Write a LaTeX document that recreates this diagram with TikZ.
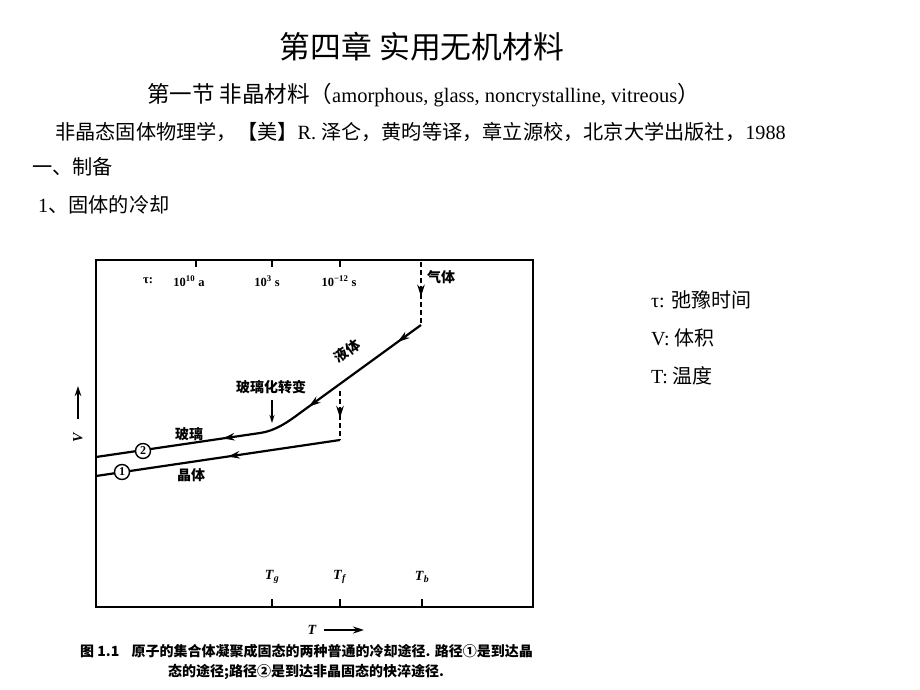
\documentclass[tikz,border=0pt]{standalone}
\usepackage{fontspec}
\setmainfont{Liberation Serif}
\newfontfamily\cjk{Noto Sans CJK SC}
\usetikzlibrary{arrows.meta,decorations.markings}
\tikzset{
  txt/.style={inner sep=0pt, anchor=west},
  hdr/.style={txt, font=\fontsize{20.2}{21}\selectfont},
  side/.style={txt, font=\fontsize{20}{21}\selectfont},
  flbl/.style={inner sep=0pt, font=\cjk\bfseries\fontsize{14}{14}\selectfont},
  tlbl/.style={inner sep=0pt, font=\bfseries\fontsize{12.5}{12.5}\selectfont},
  tklbl/.style={inner sep=0pt, font=\bfseries\fontsize{14}{14}\selectfont},
  capt/.style={inner sep=0pt, font=\cjk\bfseries\fontsize{14}{14}\selectfont},
  frame/.style={line width=1.8pt},
  curve/.style={line width=2.2pt},
  dline/.style={line width=2.2pt, dash pattern=on 5pt off 3pt},
  circ/.style={circle, draw, fill=white, line width=1.4pt, minimum size=15pt, inner sep=0pt, font=\bfseries\fontsize{12}{12}\selectfont},
  arr/.style={postaction={decorate, decoration={markings,
      mark=at position #1 with {\arrow{Stealth[length=12pt,width=7.5pt]}}}}},
}
\begin{document}
\begin{tikzpicture}[x=1pt,y=-1pt]
\useasboundingbox (0,0) rectangle (920,690);
% ---------- header text ----------
\node[inner sep=0pt, font=\cjk\fontsize{30.8}{31}\selectfont] (title) at (422,47) {第四章 实用无机材料};
\node[txt] (sub) at (147,95) {{\cjk\fontsize{22.5}{23}\selectfont 第一节 非晶材料（}{\fontsize{20.5}{21}\selectfont amorphous,\ glass, noncrystalline,\ vitreous}{\cjk\fontsize{22.5}{23}\selectfont ）}};
\node[hdr] (ref) at (55,132) {{\cjk 非晶态固体物理学，【美】}R. {\cjk 泽仑，黄昀等译，章立源校，北京大学出版社，}1988};
\node[hdr] (s1) at (32,167) {\cjk 一、制备};
\node[hdr] (s2) at (38,205) {1{\cjk 、固体的冷却}};
% ---------- side legend ----------
\node[side] (l1) at (651,300) {τ: {\cjk 弛豫时间}};
\node[side] (l2) at (651,338) {V: {\cjk 体积}};
\node[side] (l3) at (651,376) {T: {\cjk 温度}};
% ---------- frame ----------
\coordinate (fbl) at (96,607);
\coordinate (ftr) at (533,260);
\draw[frame] (fbl) rectangle (ftr);
% top ticks
\foreach \x in {196,272,340} \draw[line width=1.6pt] (\x,260) -- (\x,267);
% bottom ticks
\foreach \x in {272,340,422} \draw[line width=1.8pt] (\x,607) -- (\x,599);
% top labels
\node[tlbl] (tau) at (148,281) {τ:};
\node[tlbl] (t1) at (189,281) {10\textsuperscript{10} a};
\node[tlbl] (t2) at (267,281) {10\textsuperscript{3} s};
\node[tlbl] (t3) at (339,281) {10\textsuperscript{−12} s};
\node[flbl] (gas) at (441,277) {气体};
% bottom labels
\node[tklbl] (Tg) at (272,577) {\textit{T}\textsubscript{\textit{g}}};
\node[tklbl] (Tf) at (340,577) {\textit{T}\textsubscript{\textit{f}}};
\node[tklbl] (Tb) at (422,577) {\textit{T}\textsubscript{\textit{b}}};
% axes
\node[tklbl, rotate=90] (V) at (78,437) {\textit{V}};
\coordinate (va) at (78,419);
\coordinate (vb) at (78,386);
\draw[line width=1.8pt, -{Stealth[length=10pt,width=6.5pt]}] (va) -- (vb);
\node[font=\itshape\bfseries\fontsize{14}{14}\selectfont, inner sep=0pt] (T) at (312,630) {T};
\coordinate (ta) at (324,630);
\coordinate (tb) at (364,630);
\draw[line width=1.8pt, -{Stealth[length=11pt,width=7pt]}] (ta) -- (tb);
% ---------- curves ----------
\coordinate (gtop) at (421,262);
\coordinate (gbot) at (421,325);
\coordinate (lq) at (300,413);
\coordinate (gs) at (260,433);
\coordinate (gend) at (96,457);
\coordinate (ftop) at (340,391);
\coordinate (fbot) at (340,440);
\coordinate (cend) at (96,476);
\draw[dline, arr=0.55] (gtop) -- (gbot);
\draw[curve, arr=0.08, arr=0.385, arr=0.645] (gbot) -- (lq) .. controls (288,422) and (275,431) .. (gs) -- (gend);
\draw[dline, arr=0.55] (ftop) -- (fbot);
\draw[curve, arr=0.46] (fbot) -- (cend);
\node[circ] (c2) at (143,451) {2};
\node[circ] (c1) at (122,472) {1};
% figure labels
\node[flbl, rotate=36] (liq) at (347,351) {液体};
\node[flbl] (gtr) at (271,387) {玻璃化转变};
\coordinate (ga) at (272,400);
\coordinate (gb) at (272,423);
\draw[line width=1.3pt, -{Stealth[length=8pt,width=5pt]}] (ga) -- (gb);
\node[flbl] (glass) at (189,434) {玻璃};
\node[flbl] (cryst) at (191,475) {晶体};
% ---------- caption ----------
\node[capt, anchor=west] (cap0) at (80,651) {图 1.1};
\node[capt, anchor=east] (cap1) at (533,651) {原子的集合体凝聚成固态的两种普通的冷却途径. 路径①是到达晶};
\node[capt] (cap2) at (306,672) {态的途径;路径②是到达非晶固态的快淬途径.};
\end{tikzpicture}
\end{document}
